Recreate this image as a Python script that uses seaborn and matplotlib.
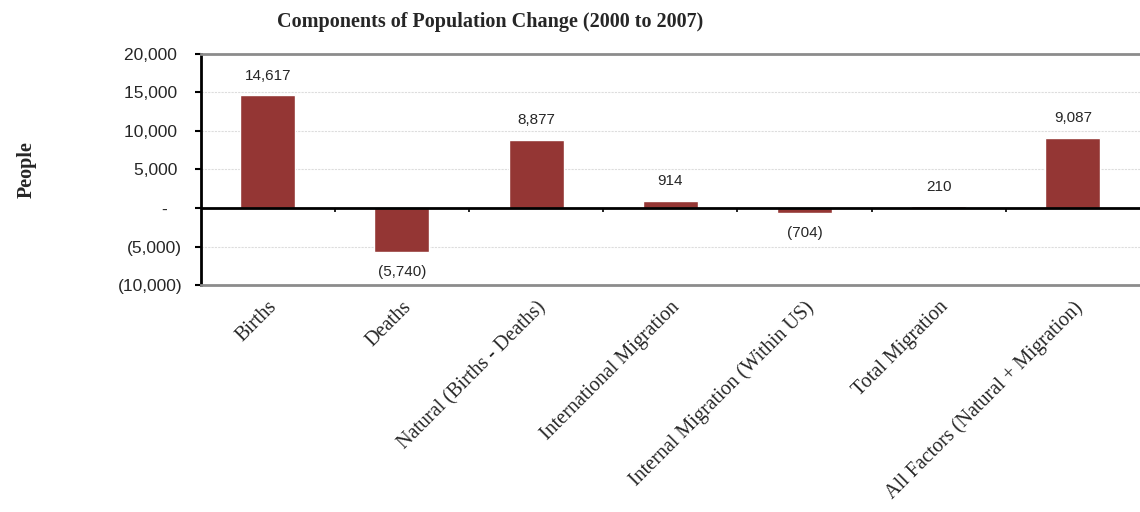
import matplotlib
matplotlib.use('Agg')
import matplotlib.pyplot as plt
import matplotlib.transforms as mtransforms
import seaborn as sns
import pandas as pd
from matplotlib.ticker import FuncFormatter

# data
categories = ["Births", "Deaths", "Natural (Births - Deaths)", "International Migration",
              "Internal Migration (Within US)", "Total Migration", "All Factors (Natural + Migration)"]
values = [14617, -5740, 8877, 914, -704, 210, 9087]
y_ticks = [-10000, -5000, 0, 5000, 10000, 15000, 20000]

BAR_COLOR = "#943634"
SERIF = "Liberation Serif"
SANS = "Liberation Sans"


def fmt_num(v, pos=None):
    # accounting style: negatives in brackets, zero as a dash
    if v == 0:
        return "-   "
    if v < 0:
        return f"({abs(v):,.0f})"
    return f"{v:,.0f} "


sns.set_style("white")
plt.rcParams['font.family'] = [SANS, 'DejaVu Sans']

df = pd.DataFrame({"Component": categories, "People": values})

fig = plt.figure(figsize=(11.4, 5.12), dpi=100)
ax = fig.add_axes([0.176, 0.443, 0.824, 0.452])

sns.barplot(data=df, x="Component", y="People", color=BAR_COLOR, width=0.41,
            saturation=1, ax=ax, zorder=3)

ax.set_ylim(y_ticks[0], y_ticks[-1])
ax.set_xlim(-0.5, len(categories) - 0.5)
ax.set_yticks(y_ticks)
ax.yaxis.set_major_formatter(FuncFormatter(fmt_num))
ax.tick_params(axis='y', labelsize=12.5, length=4.3, width=1.5, color='black',
               direction='out', left=True, pad=9)

# light dotted gridlines
for t in y_ticks[1:-1]:
    if t != 0:
        ax.axhline(t, color='#dddddd', lw=0.8, ls=(0, (2, 1)), zorder=0)

# zero line with category-boundary ticks
ax.axhline(0, color='black', lw=2, zorder=4)
ax.vlines([i + 0.5 for i in range(len(categories) - 1)], -500, 0, color='black', lw=1.2, zorder=4)

# spines
ax.spines['left'].set_color('black')
ax.spines['left'].set_linewidth(2)
ax.spines['top'].set_color('#8c8c8c')
ax.spines['top'].set_linewidth(2)
ax.spines['bottom'].set_color('#8c8c8c')
ax.spines['bottom'].set_linewidth(2)
ax.spines['right'].set_visible(False)

# axis labels
ax.set_xlabel("")
ax.set_ylabel("People", fontsize=14.5, fontweight='bold', family=SERIF, labelpad=0)
ax.yaxis.set_label_coords(-0.175, 0.5)
ax.tick_params(axis='x', length=0, pad=9)
ax.set_xticks(range(len(categories)))
ax.set_xticklabels(categories, rotation=45, ha='right', va='top', rotation_mode='anchor',
                   family=SERIF, fontsize=14.5)
offset = mtransforms.ScaledTranslation(0.0, 0, fig.dpi_scale_trans)
for lbl in ax.get_xticklabels():
    lbl.set_transform(lbl.get_transform() + offset)

# value labels
for i, v in enumerate(values):
    if v >= 0:
        ax.annotate(fmt_num(v).strip(), (i, v), xytext=(0, 9), textcoords='offset points',
                    ha='center', va='bottom', fontsize=11)
    else:
        ax.annotate(fmt_num(v).strip(), (i, v), xytext=(0, -9), textcoords='offset points',
                    ha='center', va='top', fontsize=11)

fig.text(0.43, 0.958, "Components of Population Change (2000 to 2007)", ha='center', va='center',
         fontsize=14.5, fontweight='bold', family=SERIF)

fig.savefig("out.png", dpi=100)
plt.close(fig)
